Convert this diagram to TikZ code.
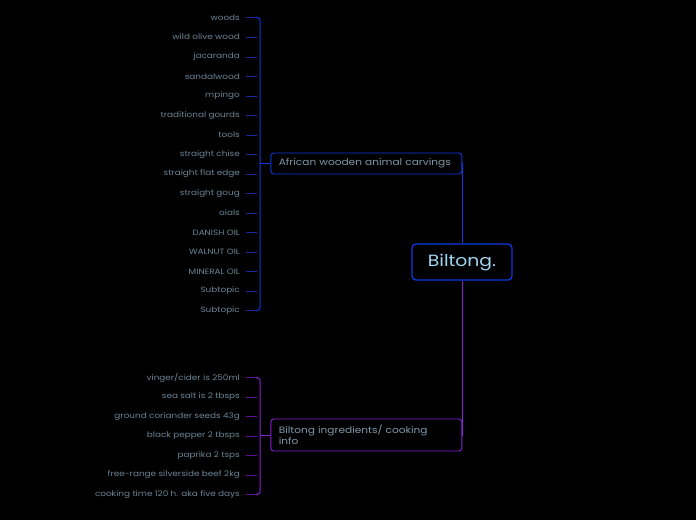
\documentclass[tikz,border=0pt]{standalone}
\usepackage{fontspec}
\setmainfont{Poppins}[FakeStretch=1.15]
\usetikzlibrary{positioning,calc}

\definecolor{bluebus}{HTML}{0B3BE0}
\definecolor{blueleaf}{HTML}{15299A}
\definecolor{purplebus}{HTML}{8A1FD8}
\definecolor{purpleleaf}{HTML}{5C1494}
\definecolor{leaftext}{HTML}{6D8596}
\definecolor{topictext}{HTML}{7F98AA}
\definecolor{roottext}{HTML}{9FD6F2}

\tikzset{
  leaf/.style={anchor=east, inner xsep=6pt, inner ysep=1pt, text=leaftext, font=\fontsize{7.7}{8}\selectfont},
  topic/.style={draw, rounded corners=3pt, line width=0.9pt, text width=175pt, align=left,
    inner xsep=8pt, inner ysep=2pt, text=topictext, font=\fontsize{9.2}{11}\selectfont},
}

\begin{document}
\begin{tikzpicture}[x=1pt,y=-1pt]
                \fill[black] (0,0) rectangle (696,520);
                \useasboundingbox (0,0) rectangle (696,520);

                \node[draw=bluebus, rounded corners=4pt, line width=1.3pt, minimum width=100pt, minimum height=36pt,
                      text=roottext, font=\fontsize{16.3}{18}\selectfont] at (462,262) (bil) {Biltong.};
                \node[topic, draw=bluebus, minimum height=21pt] at (366.3,163.5) (afr) {African wooden animal carvings};
                \node[topic, draw=purplebus, minimum height=32pt] at (366.3,435) (ing) {Biltong ingredients/ cooking\\info};

                \node[leaf] at (246,17.5) (w1) {woods};
                \node[leaf] at (246,37) (w2) {wild olive wood};
                \node[leaf] at (246,57) (w3) {jacaranda};
                \node[leaf] at (246,76.5) (w4) {sandalwood};
                \node[leaf] at (246,96) (w5) {mpingo};
                \node[leaf] at (246,115.5) (w6) {traditional gourds};
                \node[leaf] at (246,135) (w7) {tools};
                \node[leaf] at (246,154.5) (w8) {straight chise};
                \node[leaf] at (246,174) (w9) {straight flat edge};
                \node[leaf] at (246,193.5) (w10) {straight goug};
                \node[leaf] at (246,213) (w11) {oials};
                \node[leaf] at (246,232.5) (w12) {DANISH OIL};
                \node[leaf] at (246,252) (w13) {WALNUT OIL};
                \node[leaf] at (246,271.5) (w14) {MINERAL OIL};
                \node[leaf] at (246,291) (w15) {Subtopic};
                \node[leaf] at (246,310.5) (w16) {Subtopic};

                \node[leaf] at (246,377.5) (i1) {vinger/cider is 250ml};
                \node[leaf] at (246,397) (i2) {sea salt is 2 tbsps};
                \node[leaf] at (246,416.5) (i3) {ground coriander seeds 43g};
                \node[leaf] at (246,436) (i4) {black pepper 2 tbsps};
                \node[leaf] at (246,455.5) (i5) {paprika 2 tsps};
                \node[leaf] at (246,475) (i6) {free-range silverside beef 2kg};
                \node[leaf] at (246,494.5) (i7) {cooking time 120 h. aka five days};

                \coordinate (abus) at (260,163.5);
                \coordinate (ibus) at (260,435);

                % root to topics
                \draw[bluebus, line width=1pt] (bil.north) |- (afr.east);
                \draw[purplebus, line width=1pt] (bil.south) |- (ing.east);

                % carvings branch
                \foreach \n in {w1,w2,w3,w4,w5,w6,w7,w8,w9,w10,w11,w12,w13,w14,w15,w16}
                    \draw[blueleaf, line width=0.8pt] (\n.east) -- ++(11,0);
                \draw[bluebus, line width=1pt, rounded corners=3pt] ([xshift=10pt]w1.east) -| (abus) |- ([xshift=10pt]w16.east);
                \draw[bluebus, line width=1pt] (abus) -- (afr.west);

                % ingredients branch
                \foreach \n in {i1,i2,i3,i4,i5,i6,i7}
                    \draw[purpleleaf, line width=0.8pt] (\n.east) -- ++(11,0);
                \draw[purplebus, line width=1pt, rounded corners=3pt] ([xshift=10pt]i1.east) -| (ibus) |- ([xshift=10pt]i7.east);
                \draw[purplebus, line width=1pt] (ibus) -- (ing.west);
\end{tikzpicture}
\end{document}
